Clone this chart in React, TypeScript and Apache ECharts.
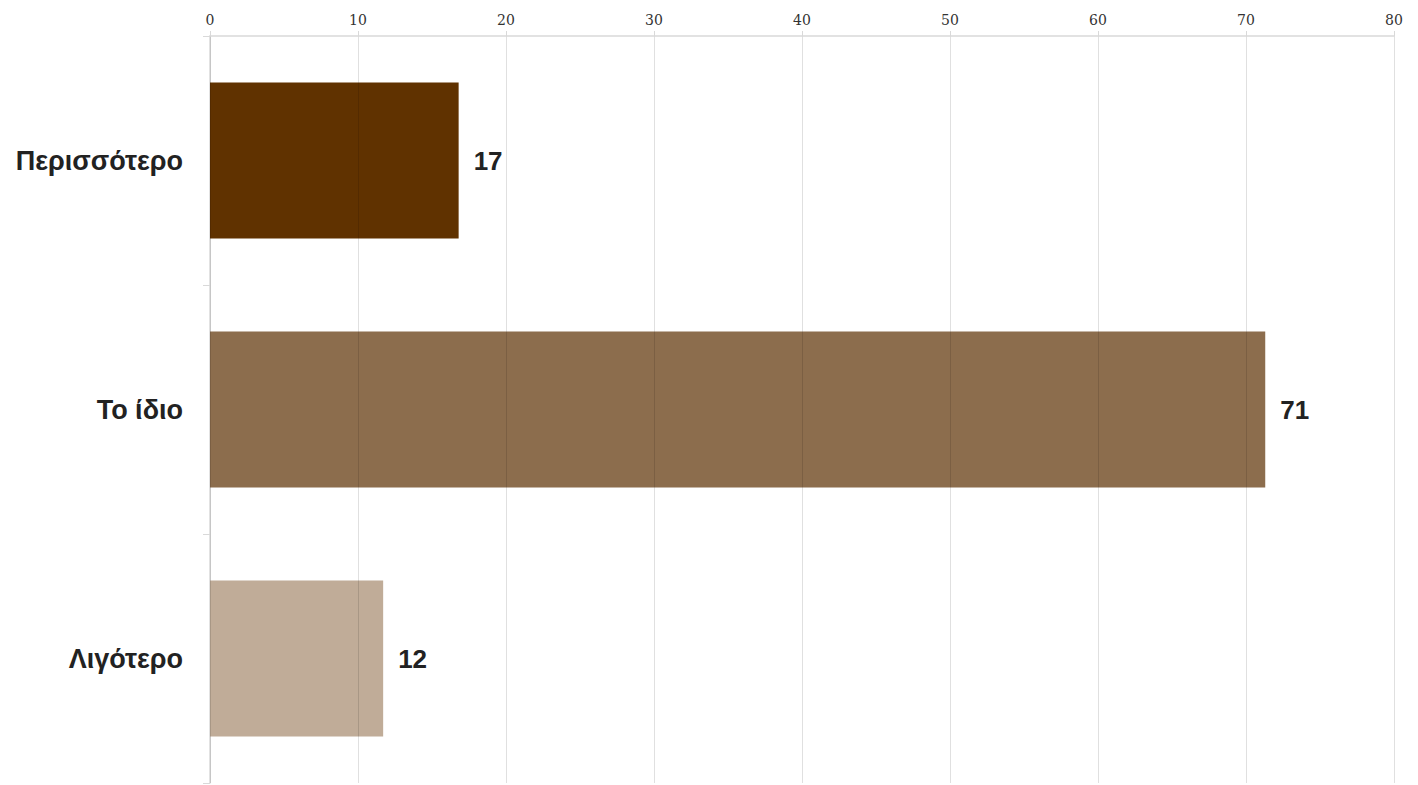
import React, { useEffect, useRef } from "react";
import * as echarts from "echarts";

const categories = ["Περισσότερο", "Το ίδιο", "Λιγότερο"];
const values = [16.8, 71.3, 11.7];
const valueLabels = ["17", "71", "12"];
const barColors = ["#603200", "#8c6d4d", "#c0ac98"];
const xTicks = [0, 10, 20, 30, 40, 50, 60, 70, 80];

export default function App() {
  const ref = useRef<HTMLDivElement>(null);
  useEffect(() => {
    if (!ref.current) return;
    const chart = echarts.init(ref.current, undefined, { renderer: "svg" });
    chart.setOption({
      animation: false,
      backgroundColor: "#ffffff",
      grid: { left: 210, right: 24, top: 36, bottom: 2, containLabel: false },
      xAxis: {
        type: "value",
        position: "top",
        min: xTicks[0],
        max: xTicks[xTicks.length - 1],
        interval: 10,
        z: 3,
        axisLine: { show: true, lineStyle: { color: "#d9d9d9", width: 1.5 } },
        axisTick: { show: true, length: 5, lineStyle: { color: "#d9d9d9" } },
        axisLabel: {
          color: "#333",
          fontFamily: "DejaVu Serif",
          fontSize: 14,
          margin: 9,
        },
        splitLine: { show: true, lineStyle: { color: "rgba(0,0,0,0.12)", width: 1 } },
      },
      yAxis: {
        type: "category",
        data: categories,
        inverse: true,
        axisLine: { show: true, lineStyle: { color: "#d9d9d9", width: 1.5 } },
        axisTick: { show: true, length: 7, lineStyle: { color: "#d9d9d9" } },
        axisLabel: {
          color: "#222",
          fontFamily: "Liberation Sans, Arial, sans-serif",
          fontWeight: "bold",
          fontSize: 27,
          margin: 27,
        },
        splitLine: { show: false },
      },
      series: [
        {
          type: "bar",
          barWidth: "62.6%",
          data: values.map((v, i) => ({
            value: v,
            itemStyle: { color: barColors[i] },
            label: {
              show: true,
              position: "right",
              distance: 15,
              formatter: valueLabels[i],
              color: "#222",
              fontFamily: "Liberation Sans, Arial, sans-serif",
              fontWeight: "bold",
              fontSize: 26,
            },
          })),
        },
      ],
    });
    return () => chart.dispose();
  }, []);
  return (
    <div
      ref={ref}
      style={{ position: "fixed", left: 0, top: 0, width: 1418, height: 785 }}
    />
  );
}
